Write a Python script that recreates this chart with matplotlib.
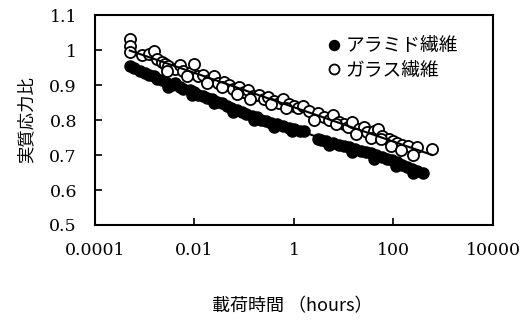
import matplotlib.pyplot as plt  # for plot itself
import numpy as np  # for fitting lines

plt.rcParams['font.family'] = ['Noto Sans CJK JP', 'DejaVu Sans']

# aramid fibre: load time (hours), real stress ratio
aramid_t = [0.0005, 0.0006, 0.0008, 0.0010, 0.0012, 0.0015, 0.0018, 0.0022, 0.0028,
            0.0035, 0.004, 0.005, 0.006, 0.008, 0.010, 0.012, 0.015, 0.018, 0.022,
            0.028, 0.035, 0.045, 0.055, 0.07, 0.09, 0.11, 0.14, 0.18, 0.22, 0.28,
            0.35, 0.45, 0.6, 0.8, 1.0, 1.3, 1.6, 3.0, 3.5, 4.5, 6, 8, 10, 13, 17,
            22, 28, 35, 45, 60, 75, 95, 120, 150, 190, 240, 300, 400,
            0.003, 0.009, 0.025, 0.06, 0.16, 0.4, 0.9, 5, 15, 40, 110, 250]
aramid_v = [0.955, 0.948, 0.940, 0.935, 0.930, 0.925, 0.918, 0.915, 0.905,
            0.900, 0.905, 0.895, 0.890, 0.885, 0.880, 0.872, 0.870, 0.862, 0.860,
            0.852, 0.848, 0.840, 0.835, 0.830, 0.822, 0.818, 0.812, 0.808, 0.800, 0.798,
            0.792, 0.788, 0.782, 0.778, 0.775, 0.770, 0.768, 0.745, 0.742, 0.740, 0.735, 0.730, 0.725, 0.722, 0.718,
            0.712, 0.708, 0.705, 0.700, 0.695, 0.690, 0.685, 0.680, 0.672, 0.665, 0.660, 0.655, 0.650,
            0.895, 0.872, 0.848, 0.822, 0.800, 0.780, 0.768, 0.728, 0.708, 0.690, 0.668, 0.650]

# glass fibre
glass_t = [0.0005, 0.0005, 0.0005, 0.0009, 0.0012, 0.0015, 0.0018, 0.0022, 0.0025,
           0.003, 0.004, 0.005, 0.006, 0.008, 0.01, 0.012, 0.015, 0.02, 0.025, 0.03,
           0.04, 0.05, 0.06, 0.08, 0.1, 0.12, 0.15, 0.2, 0.25, 0.3, 0.4, 0.5, 0.6,
           0.8, 1.0, 1.2, 1.5, 2, 3, 4, 5, 6, 8, 10, 12, 15, 20, 25, 30, 40, 50, 60,
           80, 100, 120, 150, 200, 300, 600,
           0.0028, 0.007, 0.018, 0.035, 0.07, 0.13, 0.35, 0.7, 2.5, 7, 18, 35, 55, 90, 140, 250]
glass_v = [1.032, 1.012, 0.995, 0.985, 0.990, 0.998, 0.975, 0.965, 0.960,
           0.955, 0.945, 0.958, 0.940, 0.935, 0.960, 0.925, 0.930, 0.915, 0.925, 0.905,
           0.910, 0.900, 0.890, 0.895, 0.880, 0.885, 0.870, 0.872, 0.860, 0.865, 0.855, 0.850, 0.860,
           0.845, 0.840, 0.835, 0.840, 0.825, 0.820, 0.810, 0.800, 0.815, 0.795, 0.790, 0.780, 0.795, 0.775, 0.780, 0.765, 0.770, 0.775, 0.755,
           0.745, 0.740, 0.735, 0.730, 0.725, 0.722, 0.718,
           0.940, 0.925, 0.905, 0.895, 0.875, 0.860, 0.845, 0.835, 0.800, 0.790, 0.760, 0.750, 0.745, 0.725, 0.715, 0.700]

x_ticks = [0.0001, 0.01, 1, 100, 10000]
x_tick_labels = ['0.0001', '0.01', '1', '100', '10000']
y_ticks = [0.5, 0.6, 0.7, 0.8, 0.9, 1.0, 1.1]
y_tick_labels = ['0.5', '0.6', '0.7', '0.8', '0.9', '1', '1.1']

fig = plt.figure(figsize=(5.32, 3.25), dpi=100)
ax = fig.add_axes([0.1786, 0.3077, 0.748, 0.646])

ax.plot(aramid_t, aramid_v, 'o', color='black', markersize=8, label='アラミド繊維', zorder=3)
ax.plot(glass_t, glass_v, 'o', markerfacecolor='white', markeredgecolor='black',
        markeredgewidth=1.3, markersize=8, label='ガラス繊維', zorder=4)

# regression lines in log time
for t, v in [(aramid_t, aramid_v), (glass_t, glass_v)]:
    lt = np.log10(t)
    b, a = np.polyfit(lt, v, 1)
    xs = np.array([min(lt), max(lt)])
    ax.plot(10 ** xs, a + b * xs, color='black', linewidth=1.5, zorder=5)

ax.set_xscale('log')
ax.set_xlim(0.0001, 10000)
ax.set_ylim(0.5, 1.1)
ax.set_xticks(x_ticks)
ax.set_xticklabels(x_tick_labels, family='DejaVu Serif', fontsize=12.5)
ax.xaxis.set_minor_locator(plt.NullLocator())
ax.set_yticks(y_ticks)
ax.set_yticklabels(y_tick_labels, family='DejaVu Serif', fontsize=12.5)
ax.tick_params(direction='in', length=5, width=1.2)
ax.tick_params(axis='x', pad=12)
ax.tick_params(axis='y', pad=13)

for s in ax.spines.values():
    s.set_linewidth(1.5)

ax.set_ylabel('実質応力比', fontsize=12.5, labelpad=10)
fig.text(0.549, 0.058, '載荷時間 （hours）', ha='center', va='center', fontsize=13)

ax.legend(loc='upper right', bbox_to_anchor=(0.955, 0.985), frameon=False, fontsize=13.5,
          handletextpad=0.1, labelspacing=0.2, handlelength=1.0, markerscale=0.9)

fig.savefig('out.png', dpi=100)
